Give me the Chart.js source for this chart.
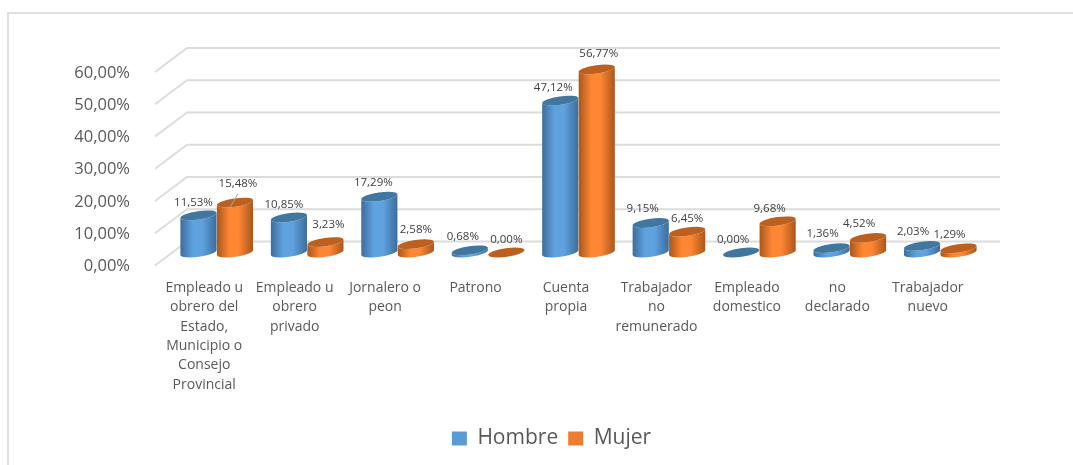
<!DOCTYPE html>
<html><head><meta charset="utf-8">
<style>html,body{margin:0;padding:0;background:#fff;overflow:hidden}#w{position:absolute;left:0;top:0;width:1073px;height:465px}
#f{position:absolute;left:7px;top:12px;width:1100px;height:500px;border-left:2px solid #e0e0e0;border-top:2px solid #e0e0e0;box-sizing:border-box;}</style>
<script src="https://cdn.jsdelivr.net/npm/chart.js@4"></script>
</head><body><div id="f"></div><div id="w"><canvas id="c" width="1073" height="465"></canvas></div>
<script>
const categories=[["Empleado u","obrero del","Estado,","Municipio o","Consejo","Provincial"],["Empleado u","obrero","privado"],["Jornalero o","peon"],["Patrono"],["Cuenta","propia"],["Trabajador","no","remunerado"],["Empleado","domestico"],["no","declarado"],["Trabajador","nuevo"]];
const hombre=[11.53,10.85,17.29,0.68,47.12,9.15,0,1.36,2.03];
const mujer=[15.48,3.23,2.58,0,56.77,6.45,9.68,4.52,1.29];
const yTicks=[0,10,20,30,40,50,60];
const FONT='"Open Sans"';
const fmt=v=>v.toFixed(2).replace('.',',')+'%';
const DX=12.5,DY=-13,ROT=-8*Math.PI/180,RY=4.2;
const look=[{e:'#3c6c9a',m:'#5fa2e0',top:'#41769f'},{e:'#a8561c',m:'#ff8632',top:'#bb601f'}];
const nudges=[[[-5,-13],[-5,-13],[-6,-14],[-7,-14],[-7,-13],[-8,-14],[-8,-13],[-9,-14],[-9,-14]],
              [[3,-19],[3,-17],[0,-14],[0,-13],[2,-16],[0,-13],[-8,-13],[-9,-14],[-9,-14]]];
function cyl(ctx,el,s){
  const w=el.width,rx=w/2,cx=el.x+DX,t=el.y+DY,b=el.base+DY;
  const g=ctx.createLinearGradient(cx-rx,0,cx+rx,0);
  g.addColorStop(0,s.e);g.addColorStop(.35,s.m);g.addColorStop(.6,s.m);g.addColorStop(1,s.e);
  ctx.fillStyle=g;ctx.beginPath();
  ctx.ellipse(cx,b,rx,RY,ROT,0,Math.PI);
  ctx.ellipse(cx,t,rx,RY,ROT,Math.PI,0,true);
  ctx.closePath();ctx.fill();
  ctx.fillStyle=s.top;ctx.beginPath();ctx.ellipse(cx,t,rx,RY,ROT,0,2*Math.PI);ctx.fill();
}
const cyl3d={id:'cyl3d',
  afterLayout(ch){ch.legend.left+=40;ch.legend.right+=40;},
  beforeDatasetsDraw(ch){
    const c=ch.ctx,y=ch.scales.y,l=ch.chartArea.left-4;
    c.save();c.strokeStyle='#dcdcdc';c.lineWidth=2;
    y.ticks.forEach((t,i)=>{const p=y.getPixelForTick(i);
      c.beginPath();c.moveTo(l,p);c.lineTo(l+32,p-24);c.lineTo(1000,p-24);c.stroke();});
    c.restore();
    [0,1].forEach(i=>ch.getDatasetMeta(i).data.forEach(el=>cyl(c,el,look[i])));
  },
  beforeDatasetDraw(){return false;},
  afterDatasetsDraw(ch){
    const c=ch.ctx;c.save();
    c.font='11.5px '+FONT;c.fillStyle='#404040';c.textAlign='center';c.textBaseline='middle';
    ch.data.datasets.forEach((d,i)=>{ch.getDatasetMeta(i).data.forEach((el,j)=>{
      const n=nudges[i][j];c.fillText(fmt(d.data[j]),el.x+DX+n[0],el.y+DY+n[1]);
      if(i===1&&j===0){c.strokeStyle='#a6a6a6';c.lineWidth=1;c.beginPath();c.moveTo(el.x+DX+3,el.y+DY-9);c.lineTo(el.x+DX-5,el.y+DY+5);c.stroke();}
    });});
    c.restore();
  }};
new Chart(document.getElementById('c'),{type:'bar',
  data:{labels:categories,datasets:[
    {label:'Hombre',data:hombre,backgroundColor:'#5b9bd5'},
    {label:'Mujer',data:mujer,backgroundColor:'#ed7d31'}]},
  options:{responsive:false,animation:false,
    layout:{padding:{left:50,right:100,top:72,bottom:6}},
    datasets:{bar:{categoryPercentage:.807,barPercentage:1}},
    plugins:{tooltip:{enabled:false},
      legend:{position:'bottom',labels:{font:{family:FONT,size:21},color:'#595959',boxWidth:15,boxHeight:14,padding:10}}},
    scales:{
      x:{grid:{display:false},border:{display:false},afterFit(s){s.height=152.5;},
        ticks:{font:{family:FONT,size:14,lineHeight:1.38},color:'#595959',maxRotation:0,minRotation:0,autoSkip:false,padding:5}},
      y:{min:0,max:60,afterFit(s){s.width=109;},afterBuildTicks(s){s.ticks=yTicks.map(v=>({value:v}));},
        grid:{display:false},border:{display:false},
        ticks:{font:{family:FONT,size:16.5},color:'#595959',padding:21,labelOffset:1,callback:v=>fmt(v)}}
    }},
  plugins:[cyl3d]});
</script></body></html>
